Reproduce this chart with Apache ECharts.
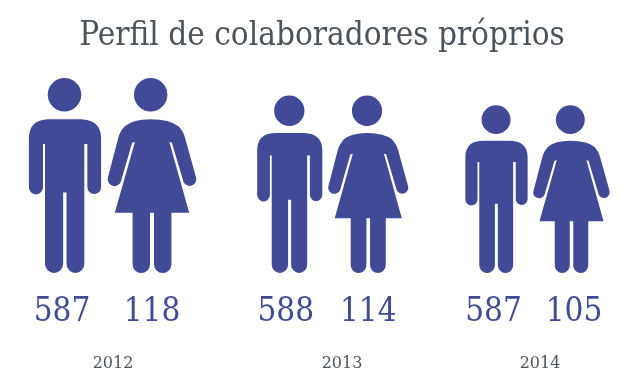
<!DOCTYPE html>
<html>
<head>
<meta charset="utf-8">
<style>
  html, body { margin: 0; padding: 0; background: #fff; }
  #chart { width: 640px; height: 387px; }
</style>
<script src="https://cdn.jsdelivr.net/npm/echarts@6/dist/echarts.min.js"></script>
</head>
<body>
<div id="chart"></div>
<script>
const years = ["2012", "2013", "2014"];
const men = [587, 588, 587];
const women = [118, 114, 105];
// relative size of the figures, 2012 = 100
const figureSize = [100, 91, 86];

const BLUE = "#414a96";
const GREY = "#4c545b";
const SERIF = "'DejaVu Serif Condensed', 'DejaVu Serif', serif";

const MAN =
  "path://M134 25A50 50 0 1 1 134 125A50 50 0 1 1 134 25Z" +
  "M85 148L183 148Q243 150 243 205L243 351A20.5 21 0 0 1 202 351L202 222L193 222L193 581" +
  "A26.5 27 0 0 1 140 581L140 367L130 367L130 581A27 27 0 0 1 76 581L76 222L70 222" +
  "L70 352A21 21 0 0 1 28 352L28 205Q28 150 85 148Z";
const WOMAN =
  "path://M392 25A50 50 0 1 1 392 125A50 50 0 1 1 392 25Z" +
  "M392 148Q450 148 476 170Q490 185 495 205L527 320A19 19 0 0 1 490 335L455 218L448 216" +
  "L507 428L454 428L454 582A26 26 0 0 1 402 582L402 428L390 428L390 582A26 26 0 0 1 338 582" +
  "L338 428L285 428L345 216L337 218L303 335A19 19 0 0 1 265 320L295 205" +
  "Q300 185 314 170Q338 148 392 148Z";

// one panel per year, labelPad nudges the two count labels sideways
const panels = [
  { left: 21.5, width: 174, yearX: 113, labelPad: [[0, 6, 0, 0], [0, 0, 0, 0]] },
  { left: 250.5, width: 157, yearX: 342, labelPad: [[0, 8, 0, 0], [0, 0, 0, 0]] },
  { left: 459, width: 150, yearX: 540, labelPad: [[0, 6, 0, 0], [0, 0, 0, 5]] },
];

const option = {
  animation: false,
  title: [
    {
      text: "Perfil de colaboradores próprios",
      left: 322,
      top: 20,
      padding: 0,
      textAlign: "center",
      textStyle: { fontFamily: SERIF, fontSize: 33, fontWeight: "normal", color: GREY },
    },
    ...years.map((y, i) => ({
      text: y,
      left: panels[i].yearX,
      top: 356,
      padding: 0,
      textAlign: "center",
      textStyle: { fontFamily: "'DejaVu Serif', serif", fontSize: 16, fontWeight: "normal", color: GREY },
    })),
  ],
  grid: panels.map((p) => ({ left: p.left, width: p.width, top: 78, bottom: 114 })),
  xAxis: years.map((y, i) => ({
    type: "category",
    gridIndex: i,
    data: [
      { value: String(men[i]), textStyle: { padding: panels[i].labelPad[0] } },
      { value: String(women[i]), textStyle: { padding: panels[i].labelPad[1] } },
    ],
    axisLine: { show: false },
    axisTick: { show: false },
    axisLabel: {
      margin: 23,
      fontFamily: SERIF,
      fontSize: 33,
      color: BLUE,
      interval: 0,
    },
  })),
  yAxis: years.map((y, i) => ({
    type: "value",
    gridIndex: i,
    min: 0,
    max: 100,
    show: false,
  })),
  series: years.map((y, i) => ({
    type: "pictorialBar",
    name: y,
    xAxisIndex: i,
    yAxisIndex: i,
    barWidth: "100%",
    data: [
      { value: figureSize[i], symbol: MAN, symbolSize: ["83%", "100%"] },
      { value: figureSize[i], symbol: WOMAN, symbolSize: ["102%", "100%"] },
    ],
    itemStyle: { color: BLUE },
  })),
};

const myChart = echarts.init(document.getElementById("chart"));
myChart.setOption(option);
</script>
</body>
</html>
